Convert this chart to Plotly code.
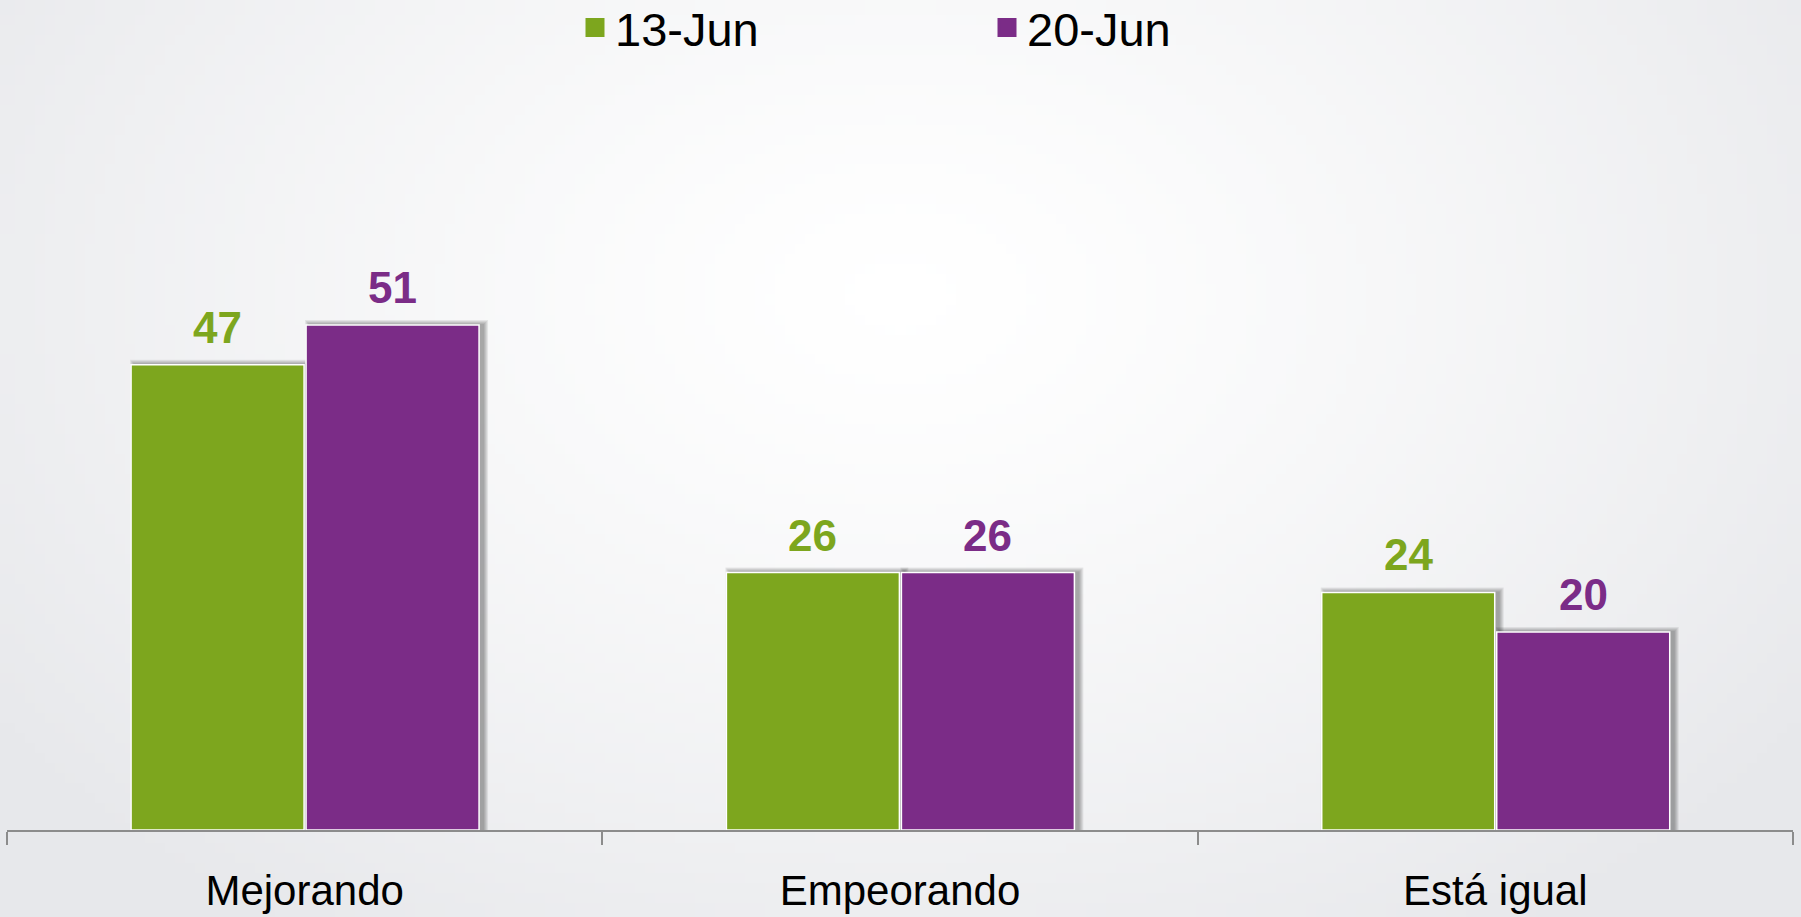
import base64, struct, zlib, math
import plotly.graph_objects as go

categories = ["Mejorando", "Empeorando", "Está igual"]
series_names = ["13-Jun", "20-Jun"]
values_13jun = [47, 26, 24]
values_20jun = [51, 26, 20]
colors = ["#7DA61E", "#7B2C87"]

W, H = 1801, 917
ML, MR, MB = 7, 8, 87
YMAX = 60
PLOT_H = 594
MT = H - MB - PLOT_H
PLOT_W = W - ML - MR
PXY = PLOT_H / YMAX          # px per y unit
PXX = PLOT_W / len(categories)  # px per category


def make_png(w, h):
    rows = []
    edge = (231, 232, 235)
    for j in range(h):
        v = j / (h - 1)
        row = bytearray()
        for i in range(w):
            u = i / (w - 1)
            d = math.sqrt(((u - 0.5) / 0.62) ** 2 + ((v - 0.32) / 0.85) ** 2)
            t = min(d, 1.0) ** 1.3
            for c in edge:
                row.append(int(round(255 * (1 - t) + c * t)))
        rows.append(bytes(row))
    raw = b"".join(b"\x00" + r for r in rows)

    def chunk(tag, data):
        return struct.pack(">I", len(data)) + tag + data + struct.pack(">I", zlib.crc32(tag + data) & 0xffffffff)

    png = b"\x89PNG\r\n\x1a\n"
    png += chunk(b"IHDR", struct.pack(">IIBBBBB", w, h, 8, 2, 0, 0, 0))
    png += chunk(b"IDAT", zlib.compress(raw, 9))
    png += chunk(b"IEND", b"")
    return "data:image/png;base64," + base64.b64encode(png).decode()


bg = make_png(180, 92)

bar_w = 173 / PXX
offsets = [-0.2916, -0.2916 + bar_w + 2 / PXX]

fig = go.Figure()

# soft shadows
for s, vals in enumerate([values_13jun, values_20jun]):
    for k in range(1, 6):
        fig.add_trace(go.Bar(
            x=categories, y=[v + k / PXY for v in vals],
            offset=offsets[s] + (4 - k) / PXX, width=bar_w + 2 * k / PXX,
            marker=dict(color="rgba(0,0,0,0.075)", line=dict(width=0)),
            showlegend=False, hoverinfo="skip",
        ))

for s, vals in enumerate([values_13jun, values_20jun]):
    fig.add_trace(go.Bar(
        x=categories, y=vals, name=series_names[s],
        offset=offsets[s], width=bar_w, showlegend=False,
        marker=dict(color=colors[s], line=dict(color="white", width=1.5)),
    ))
    for c, v in zip(categories, vals):
        fig.add_annotation(
            x=c, y=v, xref="x", yref="y", text="<b>%d</b>" % v,
            showarrow=False, yanchor="bottom",
            xshift=(offsets[s] + bar_w / 2) * PXX, yshift=11,
            font=dict(family="Liberation Sans, Arial", size=44, color=colors[s]),
        )

# legend entries
for s in range(2):
    fig.add_trace(go.Scatter(
        x=[None], y=[None], mode="markers", name=series_names[s],
        marker=dict(symbol="square", size=16, color=colors[s],
                    line=dict(color=colors[s], width=3)),
        showlegend=True, hoverinfo="skip",
    ))

fig.update_layout(
    width=W, height=H,
    margin=dict(l=ML, r=MR, t=MT, b=MB, autoexpand=False),
    barmode="overlay",
    paper_bgcolor="#e9eaec", plot_bgcolor="rgba(0,0,0,0)",
    font=dict(family="Liberation Sans, Arial", color="black"),
    showlegend=True,
    legend=dict(
        orientation="h", x=(575 - ML) / PLOT_W, xanchor="left",
        y=(H - MB - 28) / PLOT_H, yanchor="middle",
        font=dict(size=47), entrywidth=367, entrywidthmode="pixels",
        bgcolor="rgba(0,0,0,0)", itemsizing="trace",
    ),
    images=[dict(
        source=bg, xref="paper", yref="paper",
        x=-ML / PLOT_W, y=(H - MB) / PLOT_H,
        sizex=W / PLOT_W, sizey=H / PLOT_H,
        xanchor="left", yanchor="top", sizing="stretch", layer="below",
    )],
)
fig.update_xaxes(
    type="category", tickson="boundaries", ticks="outside", ticklen=13,
    tickcolor="#8c8c8c", tickwidth=2, showline=True, linecolor="#8c8c8c",
    linewidth=2, showgrid=False, tickfont=dict(size=42, color="black"),
    ticklabelstandoff=23, range=[-0.5, 2.5], automargin=False,
)
fig.update_yaxes(range=[0, YMAX], visible=False, showgrid=False, zeroline=False,
                 automargin=False)

fig.write_html("out.html", config={"displayModeBar": False},
               post_script="document.body.style.margin='0';document.body.style.overflow='hidden';")
